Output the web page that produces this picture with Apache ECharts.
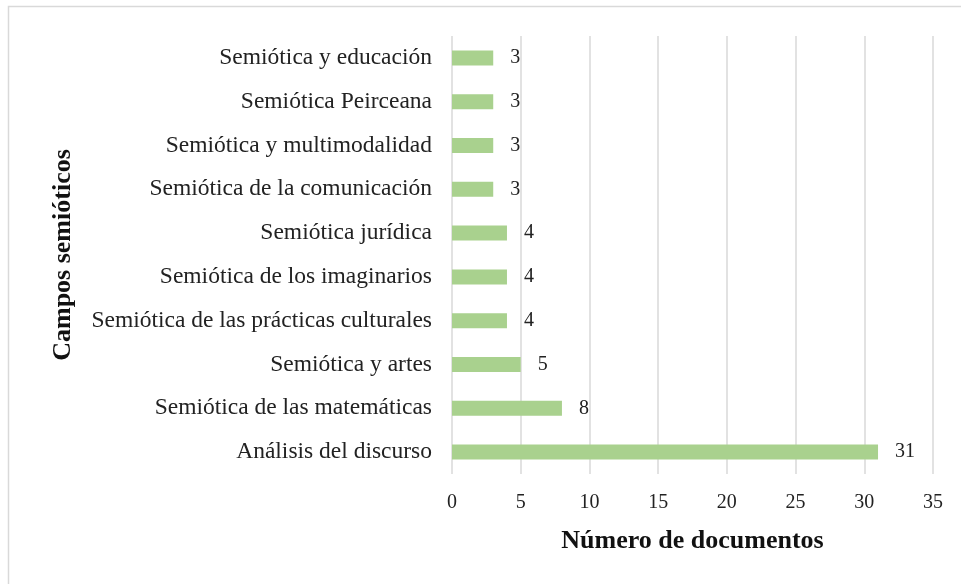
<!DOCTYPE html>
<html>
<head>
<meta charset="utf-8">
<script src="https://cdn.jsdelivr.net/npm/echarts@6/dist/echarts.min.js"></script>
<style>
html,body{margin:0;padding:0;background:#fff;}
#chart{width:961px;height:584px;}
</style>
</head>
<body>
<div id="chart"></div>
<script>
const categories = [
  "Análisis del discurso",
  "Semiótica de las matemáticas",
  "Semiótica y artes",
  "Semiótica de las prácticas culturales",
  "Semiótica de los imaginarios",
  "Semiótica jurídica",
  "Semiótica de la comunicación",
  "Semiótica y multimodalidad",
  "Semiótica Peirceana",
  "Semiótica y educación"
];
const values = [31, 8, 5, 4, 4, 4, 3, 3, 3, 3];
const xTicks = [0, 35, 5];
const xAxisName = "Número de documentos";
const yAxisName = "Campos semióticos";

const font = "'Liberation Serif', 'Times New Roman', serif";
const chart = echarts.init(document.getElementById('chart'));
chart.setOption({
  backgroundColor: '#fff',
  animation: false,
  graphic: [{
    type: 'rect',
    shape: {x: 8.5, y: 6.5, width: 960, height: 600},
    style: {fill: 'none', stroke: '#d9d9d9', lineWidth: 1.5},
    silent: true
  }],
  grid: {left: 452, right: 28, top: 36, bottom: 110, containLabel: false},
  xAxis: {
    type: 'value',
    min: xTicks[0], max: xTicks[1], interval: xTicks[2],
    axisLine: {show: false},
    axisTick: {show: false},
    splitLine: {show: true, lineStyle: {color: '#d9d9d9', width: 1.5}},
    axisLabel: {fontFamily: font, fontSize: 20, color: '#222', margin: 19},
    name: xAxisName,
    nameLocation: 'middle',
    nameGap: 54,
    nameTextStyle: {fontFamily: font, fontSize: 26, fontWeight: 'bold', color: '#111'}
  },
  yAxis: {
    type: 'category',
    data: categories,
    axisLine: {show: false},
    axisTick: {show: false},
    axisLabel: {fontFamily: font, fontSize: 23.5, color: '#222', margin: 20},
    name: yAxisName,
    nameLocation: 'middle',
    nameGap: 376,
    nameRotate: 90,
    nameTextStyle: {fontFamily: font, fontSize: 26, fontWeight: 'bold', color: '#111'}
  },
  series: [{
    type: 'bar',
    data: values,
    barWidth: 15,
    itemStyle: {color: '#a9d18e'},
    label: {show: true, position: 'right', distance: 17, fontFamily: font, fontSize: 20, color: '#222'}
  }]
});
</script>
</body>
</html>
